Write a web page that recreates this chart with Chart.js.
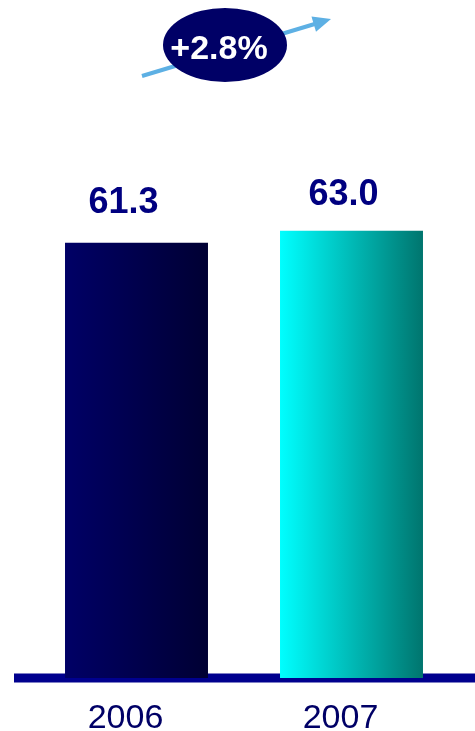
<!DOCTYPE html>
<html>
<head>
<meta charset="utf-8">
<script src="https://cdn.jsdelivr.net/npm/chart.js@4/dist/chart.umd.min.js"></script>
<style>
  html, body { margin: 0; padding: 0; background: #fff; }
  #wrap { width: 475px; height: 731px; position: relative; }
</style>
</head>
<body>
<div id="wrap"><canvas id="myChart"></canvas></div>
<script>
const years = ['2006', '2007'];
const values = [61.3, 63.0];
const barFrom = ['#000066', '#00FFFF'];
const barTo = ['#000033', '#00756E'];

const BAR_PCT = 0.665;
const growth = (values[1] - values[0]) / values[0] * 100;

// horizontal gradient across each bar's width, taken from the x scale
function barFill(ctx) {
  const chart = ctx.chart;
  const area = chart.chartArea;
  const xs = chart.scales.x;
  if (!area || !xs) return barFrom[ctx.dataIndex];
  const cx = xs.getPixelForValue(ctx.dataIndex);
  const half = (area.right - area.left) / years.length * BAR_PCT / 2;
  const g = chart.ctx.createLinearGradient(cx - half, 0, cx + half, 0);
  g.addColorStop(0, barFrom[ctx.dataIndex]);
  g.addColorStop(1, barTo[ctx.dataIndex]);
  return g;
}

const baseLine = {
  id: 'baseLine',
  beforeDatasetsDraw(chart) {
    const { ctx } = chart;
    const y = chart.scales.y.getPixelForValue(0);
    ctx.save();
    ctx.fillStyle = '#00008E';
    ctx.fillRect(14, y - 4.5, chart.width - 14, 9);
    ctx.restore();
  }
};

const valueLabels = {
  id: 'valueLabels',
  afterDatasetsDraw(chart) {
    const { ctx } = chart;
    const meta = chart.getDatasetMeta(0);
    const shift = [-13, -8];
    const gap = [30, 26];
    ctx.save();
    ctx.font = 'bold 36px "Liberation Sans", Arial, sans-serif';
    ctx.fillStyle = '#000080';
    ctx.textAlign = 'center';
    ctx.textBaseline = 'alphabetic';
    meta.data.forEach((bar, i) => {
      ctx.fillText(values[i].toFixed(1), bar.x + shift[i], bar.y - gap[i]);
    });
    ctx.restore();
  }
};

const growthBadge = {
  id: 'growthBadge',
  afterDraw(chart) {
    const { ctx } = chart;
    ctx.save();
    // rising arrow behind the badge
    ctx.strokeStyle = '#5DB0E4';
    ctx.fillStyle = '#5DB0E4';
    ctx.lineWidth = 4;
    ctx.beginPath();
    ctx.moveTo(142, 76);
    ctx.lineTo(318, 23);
    ctx.stroke();
    const ang = Math.atan2(20 - 76, 331 - 142);
    ctx.beginPath();
    ctx.moveTo(331, 19);
    ctx.lineTo(331 - 18 * Math.cos(ang) + 8 * Math.sin(ang), 19 - 18 * Math.sin(ang) - 8 * Math.cos(ang));
    ctx.lineTo(331 - 18 * Math.cos(ang) - 8 * Math.sin(ang), 19 - 18 * Math.sin(ang) + 8 * Math.cos(ang));
    ctx.closePath();
    ctx.fill();

    ctx.fillStyle = '#000066';
    ctx.beginPath();
    ctx.ellipse(225, 45, 62, 37, 0, 0, Math.PI * 2);
    ctx.fill();

    ctx.fillStyle = '#ffffff';
    ctx.font = 'bold 34px "Liberation Sans", Arial, sans-serif';
    ctx.textAlign = 'center';
    ctx.textBaseline = 'alphabetic';
    ctx.fillText('+' + growth.toFixed(1) + '%', 219, 59);
    ctx.restore();
  }
};

new Chart(document.getElementById('myChart'), {
  type: 'bar',
  data: {
    labels: years,
    datasets: [{
      data: values,
      backgroundColor: barFill,
      borderWidth: 0,
      categoryPercentage: 1,
      barPercentage: BAR_PCT
    }]
  },
  options: {
    responsive: true,
    maintainAspectRatio: false,
    animation: false,
    layout: { padding: { left: 29, right: 16, top: 39, bottom: 0 } },
    plugins: { legend: { display: false }, tooltip: { enabled: false } },
    scales: {
      x: {
        grid: { display: false },
        border: { display: false },
        ticks: {
          color: '#000066',
          font: { family: '"Liberation Sans", Arial, sans-serif', size: 34 },
          padding: 12,
          labelOffset: -11
        },
        afterFit(scale) { scale.height = 53; }
      },
      y: {
        display: false,
        min: 0,
        max: 90
      }
    }
  },
  plugins: [baseLine, valueLabels, growthBadge]
});
</script>
</body>
</html>
